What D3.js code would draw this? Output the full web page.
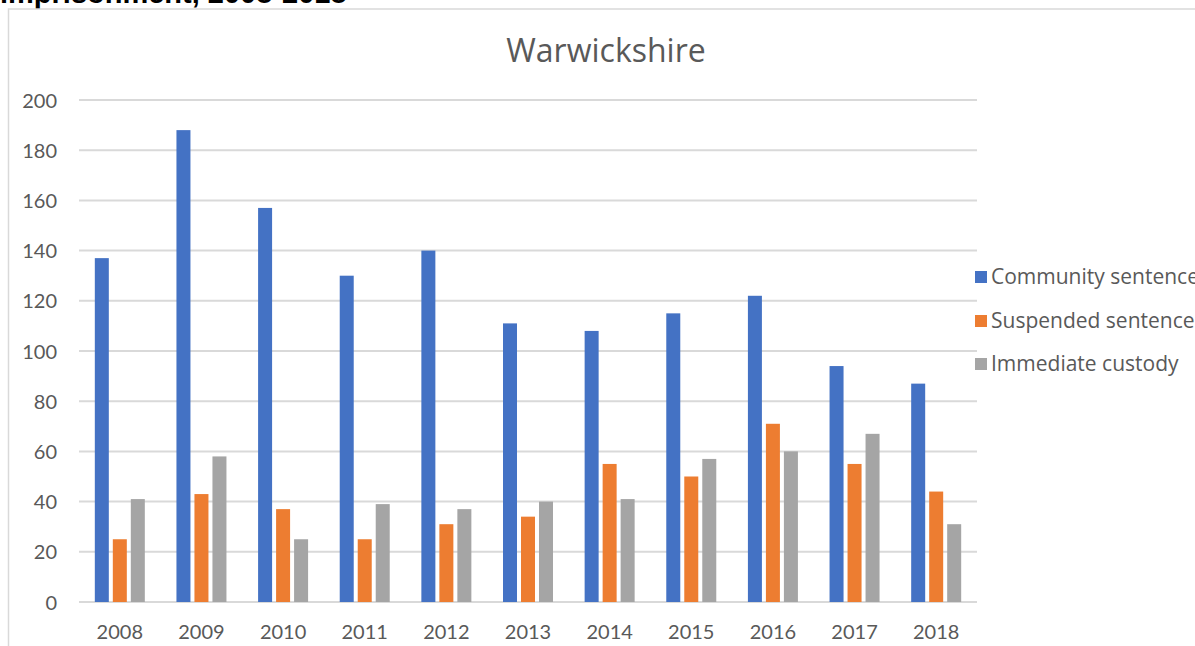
<!DOCTYPE html>
<html>
<head>
<meta charset="utf-8">
<script src="https://cdn.jsdelivr.net/npm/d3@7"></script>
<style>
  html, body { margin: 0; padding: 0; background: #fff; overflow: hidden; }
  svg { display: block; font-family: "Open Sans", Lato, sans-serif; }
</style>
</head>
<body>
<svg id="chart" width="1195" height="646"></svg>
<script>
// Sentencing outcomes by year
var years = ['2008', '2009', '2010', '2011', '2012', '2013', '2014', '2015', '2016', '2017', '2018'];
var seriesNames = ['Community sentence', 'Suspended sentence', 'Immediate custody'];
var community = [137, 188, 157, 130, 140, 111, 108, 115, 122, 94, 87];
var suspended = [25, 43, 37, 25, 31, 34, 55, 50, 71, 55, 44];
var custody = [41, 58, 25, 39, 37, 40, 41, 57, 60, 67, 31];
var yTicks = [0, 20, 40, 60, 80, 100, 120, 140, 160, 180, 200];
var colors = ['#4472C4', '#ED7D31', '#A5A5A5'];

var svg = d3.select('#chart');
var textColor = '#595959';
var gridColor = '#d9d9d9';

// heading of the page above the chart (cropped at the top)
svg.append('text')
    .attr('x', 0)
    .attr('y', 3)
    .style('font-family', '"Liberation Sans", Arial, sans-serif')
    .style('font-weight', 'bold')
    .style('font-size', '29px')
    .attr('fill', '#000')
    .text('imprisonment, 2008-2018');

// chart frame
svg.append('rect')
    .attr('x', 8.5)
    .attr('y', 9)
    .attr('width', 1300)
    .attr('height', 700)
    .attr('fill', '#fff')
    .attr('stroke', gridColor)
    .attr('stroke-width', 1.5);

var margin = {left: 79, right: 977, top: 100, bottom: 602};

var y = d3.scaleLinear().domain([0, 200]).range([margin.bottom, margin.top]);
var x0 = d3.scaleBand().domain(years).range([margin.left, margin.right]);
var x1 = d3.scaleBand().domain(seriesNames).range([-25, 25]).paddingInner(4 / 18);

// title
svg.append('text')
    .attr('x', 606)
    .attr('y', 62)
    .attr('text-anchor', 'middle')
    .attr('fill', textColor)
    .style('font-size', '32px')
    .text('Warwickshire');

// gridlines
svg.append('g').selectAll('line')
    .data(yTicks)
    .enter()
    .append('line')
    .attr('x1', margin.left)
    .attr('x2', margin.right)
    .attr('y1', function (d) { return y(d); })
    .attr('y2', function (d) { return y(d); })
    .attr('stroke', gridColor)
    .attr('stroke-width', 2);

// y axis labels
var yAxis = d3.axisLeft(y).tickValues(yTicks).tickSize(0).tickPadding(0);
var yg = svg.append('g')
    .attr('transform', 'translate(57,0)')
    .call(yAxis);
yg.select('.domain').remove();
yg.selectAll('text')
    .attr('fill', textColor)
    .attr('dy', '0.35em')
    .style('font-size', '20px')
    .style('font-family', 'Lato, sans-serif');

// x axis labels
var xAxis = d3.axisBottom(x0).tickSize(0).tickPadding(0);
var xg = svg.append('g')
    .attr('transform', 'translate(0,639)')
    .call(xAxis);
xg.select('.domain').remove();
xg.selectAll('text')
    .attr('fill', textColor)
    .attr('dy', 0)
    .style('font-size', '20px')
    .style('font-family', 'Lato, sans-serif');

// bars
var allSeries = [community, suspended, custody];
var rows = years.map(function (yr, i) {
    return seriesNames.map(function (s, k) {
        return {year: yr, series: s, value: allSeries[k][i], color: colors[k]};
    });
});

svg.append('g').selectAll('g')
    .data(rows)
    .enter()
    .append('g')
    .attr('transform', function (d) {
        return 'translate(' + (x0(d[0].year) + x0.bandwidth() / 2) + ',0)';
    })
    .selectAll('rect')
    .data(function (d) { return d; })
    .enter()
    .append('rect')
    .attr('x', function (d) { return x1(d.series); })
    .attr('width', x1.bandwidth())
    .attr('y', function (d) { return y(d.value); })
    .attr('height', function (d) { return y(0) - y(d.value); })
    .attr('fill', function (d) { return d.color; });

// legend
var legendY = [277, 321, 364];
var legend = svg.append('g').selectAll('g')
    .data(seriesNames)
    .enter()
    .append('g')
    .attr('transform', function (d, i) { return 'translate(975,' + legendY[i] + ')'; });
legend.append('rect')
    .attr('x', 0)
    .attr('y', -6)
    .attr('width', 12)
    .attr('height', 12)
    .attr('fill', function (d, i) { return colors[i]; });
legend.append('text')
    .attr('x', 16)
    .attr('dy', '0.35em')
    .attr('fill', textColor)
    .style('font-size', '21px')
    .text(function (d) { return d; });
</script>
</body>
</html>
